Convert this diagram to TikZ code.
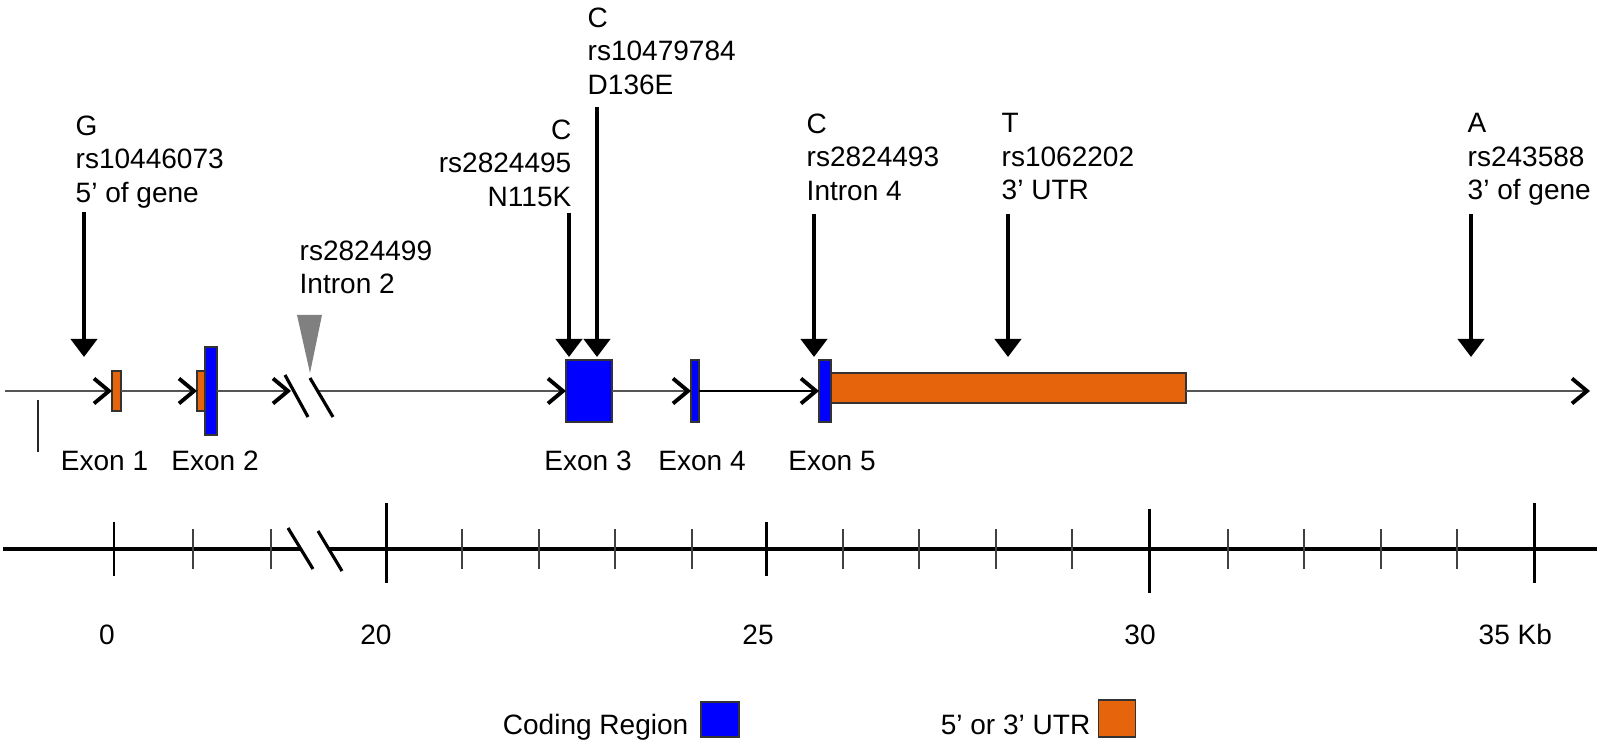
\documentclass[tikz,border=0pt]{standalone}
\usepackage{fontspec}
\setmainfont{Liberation Sans}
\usetikzlibrary{arrows.meta}

\definecolor{codingblue}{RGB}{0,0,255}
\definecolor{utrorange}{RGB}{230,100,12}
\definecolor{introngray}{RGB}{85,85,85}

\tikzset{
	txt/.style={font=\fontsize{7.97}{9.5}\selectfont, inner sep=0pt},
	snptxt/.style={txt, align=left, anchor=north west},
	exonbox/.style={draw=black!80, line width=0.4pt, inner sep=0pt, outer sep=0pt},
	coding/.style={exonbox, fill=codingblue},
	utr/.style={exonbox, fill=utrorange},
	intronline/.style={draw=introngray, line width=0.85pt, -{Straight Barb[length=1.5mm, width=2.5mm, line width=1.1pt, color=black]}},
	snparrow/.style={line width=1.15pt, -{Triangle[length=1.8mm, width=2.6mm]}},
	bigtick/.style={line width=0.85pt},
	smalltick/.style={line width=0.55pt, black!75},
}

\begin{document}
\begin{tikzpicture}[x=0.01cm, y=-0.01cm]
	\useasboundingbox (0,0) rectangle (1600,746);

	\node[snptxt] (snpg) at (75,115) {G\\rs10446073\\5’ of gene};
	\node[snptxt] (snpintron2) at (299,240) {rs2824499\\Intron 2};
	\node[snptxt, align=right, anchor=north east] (snpnk) at (572,119) {C\\rs2824495\\N115K};
	\node[snptxt] (snpde) at (587,7) {C\\rs10479784\\D136E};
	\node[snptxt] (snpintron4) at (806,113) {C\\rs2824493\\Intron 4};
	\node[snptxt] (snputr) at (1001,113) {T\\rs1062202\\3’ UTR};
	\node[snptxt] (snpend) at (1467,113) {A\\rs243588\\3’ of gene};

	\foreach \n/\x/\y in {g/84/212, nk/569/213, de/597/107, ifour/814/214, tutr/1008/214, aend/1471/214} {
		\coordinate (\n top) at (\x,\y);
		\coordinate (\n tip) at (\x,357);
		\draw[snparrow] (\n top) -- (\n tip);
	}

	\node[utr, minimum width=0.09cm, minimum height=0.40cm] (ex1) at (116.5,391) {};
	\node[utr, minimum width=0.08cm, minimum height=0.40cm] (ex2u) at (201,391) {};
	\node[coding, minimum width=0.12cm, minimum height=0.88cm] (ex2c) at (211,391) {};
	\node[coding, minimum width=0.46cm, minimum height=0.62cm] (ex3) at (589,391) {};
	\node[coding, minimum width=0.08cm, minimum height=0.62cm] (ex4) at (695,391) {};
	\node[utr, minimum width=3.55cm, minimum height=0.30cm] (utr3) at (1008.5,388) {};
	\node[coding, minimum width=0.12cm, minimum height=0.62cm] (ex5) at (825,391) {};

	\coordinate (genestart) at (5,391);
	\coordinate (brkl) at (291,391);
	\coordinate (brkr) at (318,391);
	\coordinate (geneend) at (1590,391);
	\draw[intronline] (genestart) -- (ex1.west);
	\draw[intronline] (ex1.east) -- (ex2u.west);
	\draw[intronline] (ex2c.east) -- (brkl);
	\draw[intronline] (brkr) -- (ex3.west);
	\draw[intronline] (ex3.east) -- (ex4.west);
	\draw[intronline, draw=black] (ex4.east) -- (ex5.west);
	\draw[intronline] (ex5 -| utr3.east) -- (geneend);

	\draw[line width=0.9pt] (285,375) -- (308,417) (310,378) -- (333,417);
	\fill[gray] (297,315) -- (322,315) -- (310,373) -- cycle;
	\draw[line width=0.5pt, black!85] (38,400) -- (38,452);

	\foreach \n/\x in {1/104.5, 2/215, 3/588, 4/702, 5/832}
		\node[txt, anchor=base] (exlabel\n) at (\x,470) {Exon \n};

	\draw[line width=1.2pt] (3,549) -- (301,549);
	\draw[line width=1.2pt] (329,549) -- (1597,549);
	\draw[line width=0.9pt] (288,528) -- (313,569) (318,531) -- (342,571);

	\foreach \x/\a/\b in {114/522/576, 386/503/583, 766/522/576, 1149/509/593, 1534/503/583}
		\draw[bigtick] (\x,\a) -- (\x,\b);
	\foreach \x in {193,271,462,539,615,692,843,919,996,1072,1228,1304,1381,1457}
		\draw[smalltick] (\x,529) -- (\x,569);

	\foreach \n/\x in {0/107, 20/376, 25/758, 30/1140}
		\node[txt, anchor=base] (kb\n) at (\x,644) {\n};
	\node[txt, anchor=base west] (kb35) at (1478,644) {35 Kb};

	\node[coding, minimum width=0.38cm, minimum height=0.35cm] (keycoding) at (720,719.5) {};
	\node[txt, anchor=base east] (keycodingtxt) at (689,734) {Coding Region};
	\node[utr, minimum width=0.37cm, minimum height=0.37cm] (keyutr) at (1117,718.5) {};
	\node[txt, anchor=base east] (keyutrtxt) at (1091,734) {5’ or 3’ UTR};
\end{tikzpicture}
\end{document}
